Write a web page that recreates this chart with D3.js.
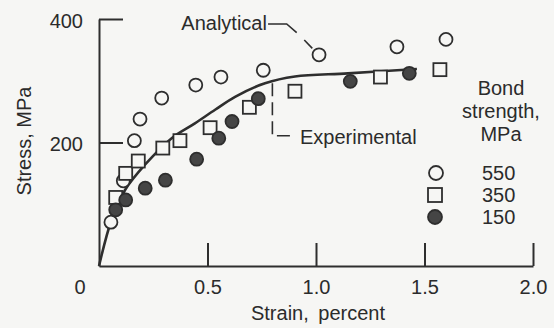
<!DOCTYPE html>
<html>
<head>
<meta charset="utf-8">
<script src="https://cdn.jsdelivr.net/npm/d3@7"></script>
<style>
  body { margin: 0; background: #f6f6f4; }
  svg text { font-family: "Liberation Sans", Arial, sans-serif; font-size: 20px; fill: #2b2b2b; }
</style>
</head>
<body>
<div id="chart"></div>
<script>
// bond strength 550 MPa (open circles)
const strain550 = [0.055, 0.112, 0.163, 0.189, 0.289, 0.446, 0.562, 0.757, 1.014, 1.373, 1.599];
const stress550 = [71, 138, 203, 238, 272, 293, 306, 317, 342, 355, 367];
// 350 MPa (open squares)
const strain350 = [0.077, 0.123, 0.181, 0.294, 0.373, 0.512, 0.693, 0.903, 1.297, 1.571];
const stress350 = [111, 150, 170, 191, 203, 224, 257, 283, 306, 318];
// 150 MPa (filled circles)
const strain150 = [0.077, 0.123, 0.213, 0.306, 0.450, 0.552, 0.613, 0.734, 1.158, 1.430];
const stress150 = [91, 107, 126, 139, 173, 207, 234, 271, 299, 312];
// solid curve
const curveStrain = [0, 0.058, 0.12, 0.212, 0.335, 0.442, 0.535, 0.627, 0.765, 0.903, 1.147, 1.465];
const curveStress = [0, 75, 123, 164, 207, 231, 253, 274, 296, 307, 312, 319];

const xTicks = [0.5, 1.0, 1.5, 2.0];
const yTicks = [200, 400];
const legendLabels = ["550", "350", "150"];
const legendTitle = ["Bond", "strength,", "MPa"];

const width = 554, height = 328;
const ink = "#2e2e2e";
const bg = "#f6f6f4";

const svg = d3.select("#chart").append("svg")
    .attr("width", width)
    .attr("height", height);

const x = d3.scaleLinear().domain([0, 2]).range([99, 533]);
const y = d3.scaleLinear().domain([0, 400]).range([266, 19]);

// axes
const xAxis = d3.axisBottom(x)
    .tickValues(xTicks)
    .tickFormat(d3.format(".1f"))
    .tickSizeInner(-23)
    .tickSizeOuter(0)
    .tickPadding(14);
const gx = svg.append("g").attr("transform", `translate(0,${y(0)})`).call(xAxis);

const yAxis = d3.axisLeft(y)
    .tickValues(yTicks)
    .tickSizeInner(-24)
    .tickSizeOuter(0)
    .tickPadding(16);
const gy = svg.append("g").attr("transform", `translate(${x(0)},0)`).call(yAxis);

[gx, gy].forEach(g => {
    g.selectAll("path, line").attr("stroke", ink).attr("stroke-width", 2);
    g.selectAll("text").style("font-size", "20px").attr("fill", "#2b2b2b");
});
gy.selectAll("text").attr("dy", "0.42em");

svg.append("text")
    .attr("x", x(0) - 19)
    .attr("y", y(0) + 28)
    .attr("text-anchor", "middle")
    .text("0");

svg.append("text")
    .attr("x", 318)
    .attr("y", 320)
    .attr("text-anchor", "middle")
    .style("word-spacing", "4px")
    .text("Strain, percent");

svg.append("text")
    .attr("transform", "translate(31,141) rotate(-90)")
    .attr("text-anchor", "middle")
    .text("Stress, MPa");

// curve
const curveData = curveStrain.map((s, i) => [s, curveStress[i]]);
svg.append("path")
    .datum(curveData)
    .attr("fill", "none")
    .attr("stroke", ink)
    .attr("stroke-width", 2.6)
    .attr("d", d3.line().x(d => x(d[0])).y(d => y(d[1])).curve(d3.curveCatmullRom.alpha(0.5)));

// leaders
const lineGen = d3.line().x(d => x(d[0])).y(d => y(d[1]));
svg.append("path")
    .attr("d", lineGen([[0.779, 392], [0.865, 392], [0.911, 378]]))
    .attr("fill", "none").attr("stroke", ink).attr("stroke-width", 1.6);
svg.append("path")
    .attr("d", lineGen([[0.946, 366], [0.983, 352.5]]))
    .attr("fill", "none").attr("stroke", ink).attr("stroke-width", 1.6);
svg.append("text")
    .attr("x", x(0.774))
    .attr("y", y(382))
    .attr("text-anchor", "end")
    .text("Analytical");

svg.append("path")
    .attr("d", lineGen([[0.799, 296], [0.799, 211], [0.880, 211]]))
    .attr("fill", "none").attr("stroke", ink).attr("stroke-width", 1.6)
    .attr("stroke-dasharray", "13,6");
svg.append("text")
    .attr("x", x(0.926))
    .attr("y", y(197.6))
    .text("Experimental");

// markers
const r = 6.5, sq = 13;
function circles(xs, ys, fill) {
    svg.append("g").selectAll("circle")
        .data(xs.map((s, i) => [s, ys[i]]))
        .join("circle")
        .attr("cx", d => x(d[0]))
        .attr("cy", d => y(d[1]))
        .attr("r", r)
        .attr("fill", fill)
        .attr("stroke", ink)
        .attr("stroke-width", 1.8);
}
circles(strain550, stress550, bg);
svg.append("g").selectAll("rect")
    .data(strain350.map((s, i) => [s, stress350[i]]))
    .join("rect")
    .attr("x", d => x(d[0]) - sq / 2)
    .attr("y", d => y(d[1]) - sq / 2)
    .attr("width", sq)
    .attr("height", sq)
    .attr("fill", bg)
    .attr("stroke", ink)
    .attr("stroke-width", 1.8);
circles(strain150, stress150, "#454545");

// legend
const legend = svg.append("g");
legend.selectAll("text.title")
    .data(legendTitle)
    .join("text")
    .attr("class", "title")
    .attr("x", 501)
    .attr("y", (d, i) => 95 + i * 23)
    .attr("text-anchor", "middle")
    .text(d => d);

const rows = [173, 195, 217];
legend.append("circle").attr("cx", 436).attr("cy", rows[0]).attr("r", 7)
    .attr("fill", bg).attr("stroke", ink).attr("stroke-width", 1.8);
legend.append("rect").attr("x", 435 - 7).attr("y", rows[1] - 7).attr("width", 14).attr("height", 14)
    .attr("fill", bg).attr("stroke", ink).attr("stroke-width", 1.8);
legend.append("circle").attr("cx", 435).attr("cy", rows[2]).attr("r", 7)
    .attr("fill", "#454545").attr("stroke", ink).attr("stroke-width", 1.8);
legend.selectAll("text.lab")
    .data(legendLabels)
    .join("text")
    .attr("class", "lab")
    .attr("x", 482)
    .attr("y", (d, i) => rows[i] + 7)
    .text(d => d);
</script>
</body>
</html>
